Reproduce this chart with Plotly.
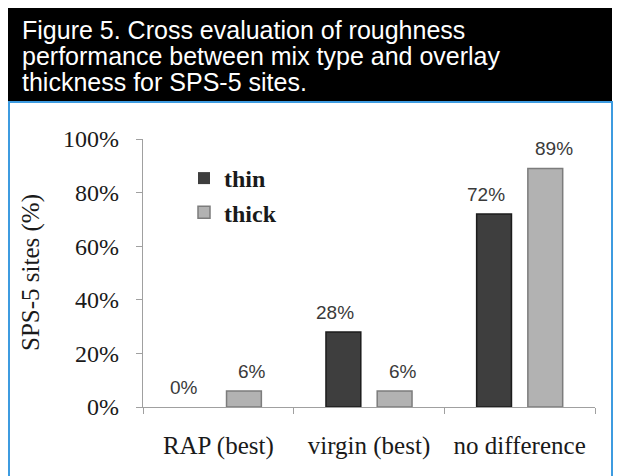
import plotly.graph_objects as go

# ---- data ----
categories = ["RAP (best)", "virgin (best)", "no difference"]
series_names = ["thin", "thick"]
thin_values = [0.00, 0.28, 0.72]
thick_values = [0.06, 0.06, 0.89]
y_tick_values = [0, 0.2, 0.4, 0.6, 0.8, 1.0]
y_tick_labels = ["0%", "20%", "40%", "60%", "80%", "100%"]
title_lines = [
    "Figure 5. Cross evaluation of roughness",
    "performance between mix type and overlay",
    "thickness for SPS-5 sites.",
]
y_axis_title = "SPS-5 sites (%)"

# ---- layout geometry (page pixels; page body has an 8px margin) ----
OFF = 8
PAGE_W, PAGE_H = 623, 476
W, H = PAGE_W - OFF, PAGE_H - OFF
PL, PR, PT, PB = 143, 595, 139, 407  # plot area in page pixels
L, T = PL - OFF, PT - OFF
R, B = W - (PR - OFF), H - (PB - OFF)
PW = PR - PL
PH = PB - PT


def px(x):
    return (x - PL) / PW


def py(y):
    return (PB - y) / PH


SERIF = "Liberation Serif, Times New Roman, serif"
SANS = "Liberation Sans, Arial, sans-serif"


def edge_widths(vals):
    return [0 if v == 0 else 1.5 for v in vals]


fig = go.Figure()
fig.add_trace(go.Bar(
    x=categories, y=thin_values, name=series_names[0],
    marker=dict(color="#3e3e3e", line=dict(color="#1c1c1c", width=edge_widths(thin_values))),
))
fig.add_trace(go.Bar(
    x=categories, y=thick_values, name=series_names[1],
    marker=dict(color="#b2b2b2", line=dict(color="#7c7c7c", width=edge_widths(thick_values))),
))

annotations = []
# value labels above bars
for vals, shift in ((thin_values, -34), (thick_values, 34)):
    for c, v in zip(categories, vals):
        annotations.append(dict(
            x=c, y=v, xref="x", yref="y", xshift=shift, yshift=7,
            yanchor="bottom", text=f"{round(v * 100)}%", showarrow=False,
            font=dict(family=SANS, size=19, color="#3a3a3a"),
        ))

# header text
for line, cy in zip(title_lines, (30, 56, 82)):
    annotations.append(dict(
        x=px(20), y=py(cy), xref="paper", yref="paper",
        xanchor="left", yanchor="middle", text=line, showarrow=False,
        font=dict(family=SANS, size=25, color="white"),
    ))

# y-axis title
annotations.append(dict(
    x=px(31), y=py(273), xref="paper", yref="paper",
    xanchor="center", yanchor="middle", textangle=-90,
    text=y_axis_title, showarrow=False,
    font=dict(family=SERIF, size=25, color="#1a1a1a"),
))

shapes = [
    dict(type="rect", xref="paper", yref="paper",
         x0=px(7), x1=px(612), y0=py(102), y1=py(7),
         fillcolor="black", line=dict(width=0), layer="below"),
    dict(type="rect", xref="paper", yref="paper",
         x0=px(9), x1=px(612), y0=py(490), y1=py(102),
         fillcolor="rgba(0,0,0,0)", line=dict(color="#3d9be0", width=2), layer="below"),
]

fig.update_layout(
    width=W, height=H,
    margin=dict(l=L, r=R, t=T, b=B, autoexpand=False),
    paper_bgcolor="white", plot_bgcolor="white",
    barmode="group", bargap=0.32, bargroupgap=0.32,
    showlegend=True,
    legend=dict(
        x=px(184), y=py(156), xanchor="left", yanchor="top",
        font=dict(family=SERIF, size=24, color="#1a1a1a", weight="bold"),
        bgcolor="rgba(0,0,0,0)", itemwidth=30, tracegroupgap=0,
    ),
    annotations=annotations,
    shapes=shapes,
    xaxis=dict(
        showline=True, linecolor="#a0a0a0", linewidth=1.3,
        ticks="outside", ticklen=6, tickcolor="#a0a0a0", tickson="boundaries",
        showgrid=False, zeroline=False,
        tickfont=dict(family=SERIF, size=25, color="#1a1a1a"),
        ticklabelstandoff=16,
    ),
    yaxis=dict(
        range=[0, 1], tickvals=y_tick_values, ticktext=y_tick_labels,
        showline=True, linecolor="#a0a0a0", linewidth=1.3,
        ticks="outside", ticklen=6, tickcolor="#a0a0a0",
        showgrid=False, zeroline=False,
        tickfont=dict(family=SERIF, size=24, color="#1a1a1a"),
        ticklabelstandoff=12,
    ),
)

fig.write_html("out.html")
